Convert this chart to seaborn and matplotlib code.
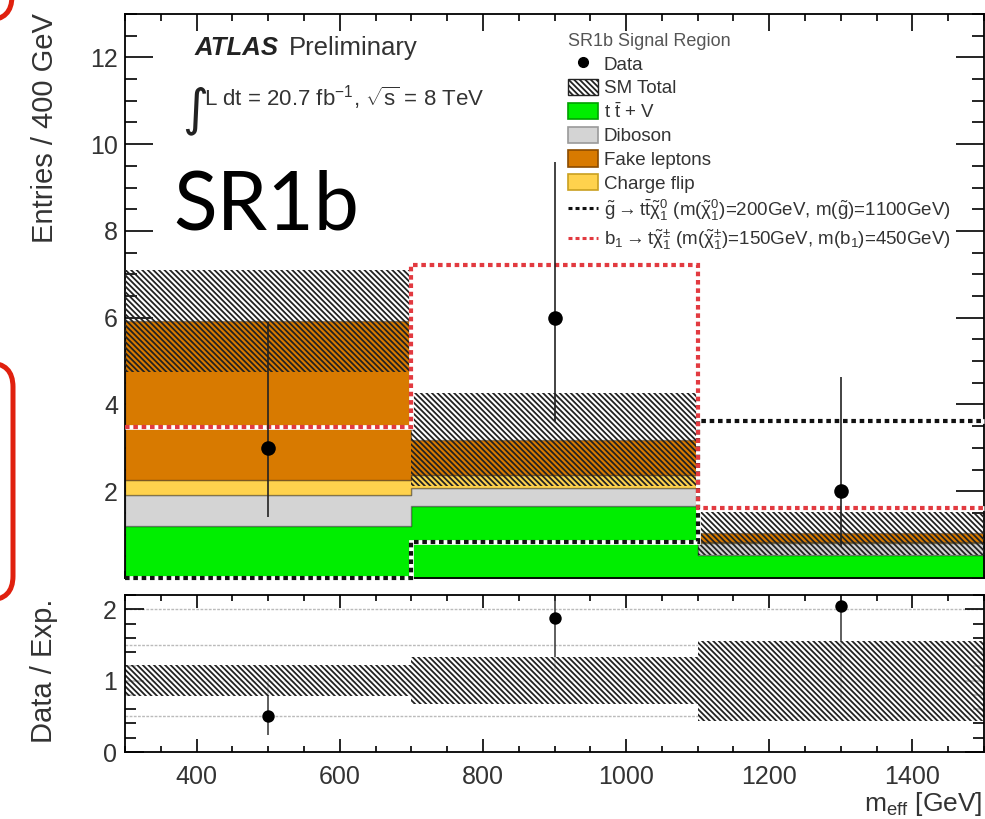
import numpy as np
import pandas as pd
import matplotlib
matplotlib.use("Agg")
import matplotlib.pyplot as plt
import seaborn as sns
from matplotlib.patches import Patch, FancyBboxPatch
from matplotlib.lines import Line2D
from matplotlib.ticker import MultipleLocator, FixedLocator
from matplotlib.transforms import IdentityTransform

# ---------------- data ----------------
bin_edges = [300, 700, 1100, 1500]
bin_centers = [500, 900, 1300]

ttv = [1.19, 1.67, 0.53]
diboson = [0.73, 0.40, 0.27]
chargeflip = [0.33, 0.31, 0.02]
fakes = [3.67, 0.81, 0.21]
sm_err = [1.17, 1.07, 0.50]

data = [3, 6, 2]
data_lo = [1.41, 3.62, 0.71]
data_hi = [5.90, 9.58, 4.64]

sig_gluino = [0.0, 0.84, 3.63]
sig_sbottom = [3.49, 7.21, 1.61]

ratio = [0.50, 1.88, 2.05]
ratio_lo = [0.24, 1.13, 0.72]
ratio_hi = [1.00, 3.00, 4.70]
ratio_err = [0.22, 0.33, 0.56]
ratio_lines = [0.5, 1.0, 1.5, 2.0]

main_yticks = [2, 4, 6, 8, 10, 12]
ratio_yticks = [0, 1, 2]
xticks = [400, 600, 800, 1000, 1200, 1400]

procs = ["Fake leptons", "Charge flip", "Diboson", "ttV"]
proc_colors = {"Fake leptons": "#d87a00", "Charge flip": "#ffd24d",
               "Diboson": "#d4d4d4", "ttV": "#00ee00"}
proc_edges = {"Fake leptons": "#8a4b00", "Charge flip": "#c9a020",
              "Diboson": "#9a9a9a", "ttV": "#00a000"}

HATCH = "\\" * 6

# ---------------- style ----------------
sns.set_style("white")
plt.rcParams["font.family"] = ["Liberation Sans", "DejaVu Sans"]
plt.rcParams["mathtext.fontset"] = "custom"
plt.rcParams["mathtext.rm"] = "Liberation Sans"
plt.rcParams["mathtext.it"] = "Liberation Sans"
plt.rcParams["mathtext.bf"] = "Liberation Sans:bold"
plt.rcParams["hatch.linewidth"] = 1.3
TXT = "#222222"

W, H = 985, 819
fig = plt.figure(figsize=(W / 100, H / 100), dpi=100)

def fx(px):
    return px / W

def fy(py):
    return 1 - py / H

ax = fig.add_axes([fx(125), fy(578), fx(984) - fx(125), fy(14) - fy(578)])
ax2 = fig.add_axes([fx(125), fy(752), fx(984) - fx(125), fy(595) - fy(752)])

# ---------------- main panel ----------------
vals = {"Fake leptons": fakes, "Charge flip": chargeflip, "Diboson": diboson, "ttV": ttv}
df = pd.DataFrame({
    "m": [c for p in procs for c in bin_centers],
    "w": [v for p in procs for v in vals[p]],
    "proc": [p for p in procs for _ in bin_centers],
})
sns.histplot(data=df, x="m", weights="w", hue="proc", hue_order=procs,
             palette=proc_colors, bins=bin_edges, multiple="stack",
             element="step", fill=True, alpha=1, linewidth=1.0,
             edgecolor=(0, 0, 0, 0.35), legend=False, ax=ax, zorder=1)

total = np.sum([ttv, diboson, chargeflip, fakes], axis=0)
ax.stairs(total + np.array(sm_err), bin_edges, baseline=total - np.array(sm_err),
          fill=True, facecolor="none", edgecolor="#222222", hatch=HATCH,
          linewidth=0, zorder=3)

dash = (0, (1.1, 0.9))
for sig, col in [(sig_gluino, "#111111"), (sig_sbottom, "#e23a40")]:
    ax.stairs(sig, bin_edges, baseline=None, color="white", linewidth=3.4,
              zorder=4, clip_on=False)
    ax.stairs(sig, bin_edges, baseline=None, color=col, linewidth=3.0,
              linestyle=dash, zorder=4.5, clip_on=False)

ax.errorbar(bin_centers, data,
            yerr=[np.subtract(data, data_lo), np.subtract(data_hi, data)],
            fmt="none", ecolor="#222222", elinewidth=1.2, capsize=0, zorder=5)
sns.scatterplot(x=bin_centers, y=data, color="black", s=110, edgecolor="black",
                linewidth=0, ax=ax, zorder=6)

ax.set_xlim(bin_edges[0], bin_edges[-1])
ax.set_ylim(0, 13)
ax.set_xlabel("")
ax.set_ylabel("")
ax.xaxis.set_major_locator(FixedLocator(xticks))
ax.xaxis.set_minor_locator(MultipleLocator(50))
ax.yaxis.set_major_locator(FixedLocator(main_yticks))
ax.yaxis.set_minor_locator(MultipleLocator(0.5))
ax.tick_params(axis="x", which="both", direction="in", top=True, bottom=True,
               labelbottom=False, color="black", width=1.2)
ax.tick_params(axis="x", which="major", length=12)
ax.tick_params(axis="x", which="minor", length=5)
ax.tick_params(axis="y", which="both", direction="in", left=True, right=True,
               color="black", width=1.2, labelsize=18, labelcolor="#333333", pad=5)
ax.tick_params(axis="y", which="major", length=20)
ax.tick_params(axis="y", which="minor", length=8.5)
for s in ax.spines.values():
    s.set_linewidth(1.3)
    s.set_color("black")

# texts
fig.text(fx(195), fy(48), "ATLAS", fontsize=18.5, fontweight="bold",
         fontstyle="italic", color=TXT, va="center", ha="left")
fig.text(fx(289), fy(48), "Preliminary", fontsize=18.5, color="#333333",
         va="center", ha="left")
fig.text(fx(182), fy(111), "\u222b", fontsize=36, color=TXT, va="center",
         ha="left", family=["DejaVu Sans"])
fig.text(fx(204), fy(98), r"L dt = 20.7 fb$^{-1}$, $\sqrt{s}$ = 8 TeV",
         fontsize=16, color="#333333", va="center", ha="left")
fig.text(fx(173), fy(230), "SR1b", fontsize=58, color="black",
         va="baseline", ha="left", family=["Lato", "DejaVu Sans"])

fig.text(fx(45), fy(13), "Entries / 400 GeV", rotation=90, fontsize=21,
         color="#333333", ha="center", va="top")

# legend
handles = [
    Line2D([], [], marker="o", color="black", linestyle="none", markersize=7),
    Patch(facecolor="white", edgecolor="#222222", hatch=HATCH, linewidth=1.0),
    Patch(facecolor=proc_colors["ttV"], edgecolor=proc_edges["ttV"], linewidth=1.2),
    Patch(facecolor=proc_colors["Diboson"], edgecolor=proc_edges["Diboson"], linewidth=1.2),
    Patch(facecolor=proc_colors["Fake leptons"], edgecolor=proc_edges["Fake leptons"], linewidth=1.2),
    Patch(facecolor=proc_colors["Charge flip"], edgecolor=proc_edges["Charge flip"], linewidth=1.2),
    Line2D([], [], color="#111111", linewidth=2.2, linestyle=(0, (1.3, 1.0))),
    Line2D([], [], color="#e23a40", linewidth=2.2, linestyle=(0, (1.3, 1.0))),
]
labels = [
    "Data", "SM Total", r"t $\bar{\mathrm{t}}$ + V", "Diboson", "Fake leptons",
    "Charge flip",
    r"$\tilde{g} \rightarrow t\bar{t}\tilde{\chi}^{0}_{1}$ (m($\tilde{\chi}^{0}_{1}$)=200GeV, m($\tilde{g}$)=1100GeV)",
    r"$b_{1} \rightarrow t\tilde{\chi}^{\pm}_{1}$ (m($\tilde{\chi}^{\pm}_{1}$)=150GeV, m($b_{1}$)=450GeV)",
]
leg = ax.legend(handles, labels, title="SR1b Signal Region", loc="upper left",
                bbox_to_anchor=(fx(568), fy(33)), bbox_transform=fig.transFigure,
                frameon=False, fontsize=13.5, title_fontsize=13, alignment="left",
                handlelength=1.6, handleheight=0.95, handletextpad=0.3,
                labelspacing=0.27, borderpad=0, borderaxespad=0)
for t in leg.get_texts():
    t.set_color("#333333")
leg.get_title().set_color("#555555")
leg.set_zorder(10)

# ---------------- ratio panel ----------------
for yv in ratio_lines:
    ax2.axhline(yv, color="#bbbbbb", linewidth=1.0, linestyle=(0, (2, 1)), zorder=0)
ax2.errorbar(bin_centers, ratio,
             yerr=[np.subtract(ratio, ratio_lo), np.subtract(ratio_hi, ratio)],
             fmt="none", ecolor="#333333", elinewidth=1.1, capsize=0, zorder=1)
ax2.stairs(1 + np.array(ratio_err), bin_edges, baseline=1 - np.array(ratio_err),
           fill=True, facecolor=(1, 1, 1, 0.75), edgecolor="#222222",
           hatch=HATCH, linewidth=0, zorder=2)
sns.scatterplot(x=bin_centers, y=ratio, color="black", s=80, edgecolor="black",
                linewidth=0, ax=ax2, zorder=5, clip_on=False)
ax2.set_xlim(bin_edges[0], bin_edges[-1])
ax2.set_ylim(0, 2.2)
ax2.set_xlabel("")
ax2.set_ylabel("")
ax2.xaxis.set_major_locator(FixedLocator(xticks))
ax2.xaxis.set_minor_locator(MultipleLocator(50))
ax2.yaxis.set_major_locator(FixedLocator(ratio_yticks))
ax2.yaxis.set_minor_locator(MultipleLocator(0.2))
ax2.tick_params(axis="x", which="both", direction="in", top=True, bottom=True,
                color="black", width=1.2, labelsize=18, labelcolor="#333333", pad=9)
ax2.tick_params(axis="x", which="major", length=9.5)
ax2.tick_params(axis="x", which="minor", length=4)
ax2.tick_params(axis="y", which="both", direction="in", left=True, right=True,
                color="black", width=1.2, labelsize=18, labelcolor="#333333", pad=6)
ax2.tick_params(axis="y", which="major", length=14)
ax2.tick_params(axis="y", which="minor", length=8)
for s in ax2.spines.values():
    s.set_linewidth(1.3)
    s.set_color("black")

fig.text(fx(44), fy(671), "Data / Exp.", rotation=90, fontsize=21,
         color="#333333", ha="center", va="center")
fig.text(fx(982), fy(811), r"m$_{\mathrm{eff}}$ [GeV]", fontsize=19,
         color="#333333", ha="right", va="baseline")

# ---------------- slide decorations (red outline marks) ----------------
fig.add_artist(FancyBboxPatch((-90, H - 600), 103, 600 - 363,
                              boxstyle="round,pad=0,rounding_size=24",
                              transform=IdentityTransform(), facecolor="none",
                              edgecolor="#e0200e", linewidth=3.6))
fig.add_artist(FancyBboxPatch((-90, H - 20), 102, 140,
                              boxstyle="round,pad=0,rounding_size=24",
                              transform=IdentityTransform(), facecolor="none",
                              edgecolor="#e0200e", linewidth=3.6))

fig.savefig("out.png", dpi=100)
